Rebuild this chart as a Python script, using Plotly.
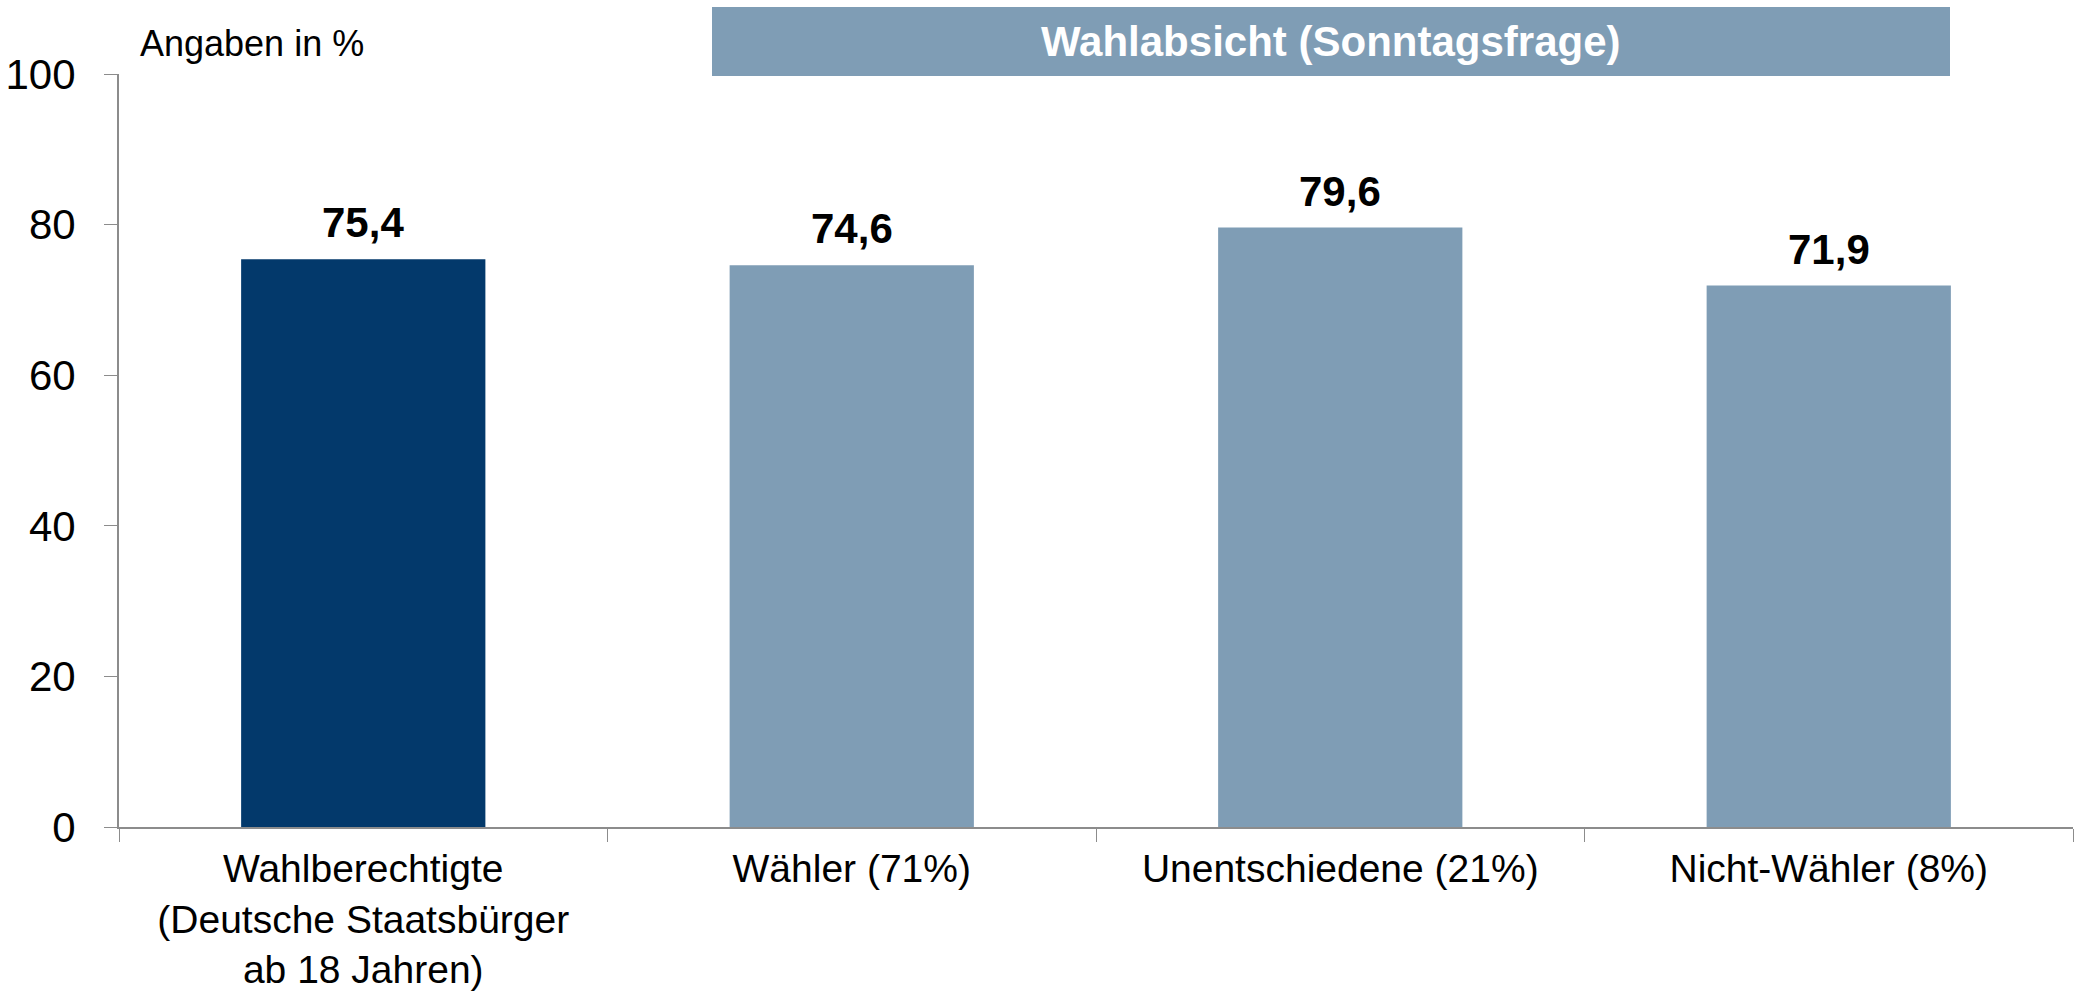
import plotly.graph_objects as go

categories = ["Wahlberechtigte<br>(Deutsche Staatsbürger<br>ab 18 Jahren)",
              "Wähler (71%)", "Unentschiedene (21%)", "Nicht-Wähler (8%)"]
values = [75.4, 74.6, 79.6, 71.9]
value_labels = ["75,4", "74,6", "79,6", "71,9"]
bar_colors = ["#03396B", "#7F9DB5", "#7F9DB5", "#7F9DB5"]
y_ticks = [0, 20, 40, 60, 80, 100]
banner_text = "Wahlabsicht (Sonntagsfrage)"
unit_text = "Angaben in %"

FONT = "Liberation Sans, Arial, sans-serif"
W, H = 2082, 995
ML, MR, MT, MB = 119, 9, 74, 168
plot_h = H - MT - MB

fig = go.Figure()
fig.add_trace(go.Bar(x=categories, y=values, marker=dict(color=bar_colors, line=dict(width=0)),
                     width=0.5, hoverinfo="skip"))

for c, v, t in zip(categories, values, value_labels):
    fig.add_annotation(x=c, y=v, text="<b>%s</b>" % t, showarrow=False, yanchor="bottom",
                       yshift=11, font=dict(family=FONT, size=42, color="black"))

def py(p):
    return (H - MB - p) / plot_h

fig.add_shape(type="rect", xref="paper", yref="paper",
              x0=(712 - ML) / (W - ML - MR), x1=(1950 - ML) / (W - ML - MR),
              y0=py(76), y1=py(7), fillcolor="#7F9DB5", line=dict(width=0), layer="above")
fig.add_annotation(xref="paper", yref="paper", x=(1331 - ML) / (W - ML - MR), y=py(41.5),
                   text="<b>%s</b>" % banner_text, showarrow=False, xanchor="center", yanchor="middle",
                   font=dict(family=FONT, size=42, color="white"))
fig.add_annotation(xref="paper", yref="paper", x=(138 - ML) / (W - ML - MR), y=py(43),
                   text=unit_text, showarrow=False, xanchor="left", yanchor="middle",
                   font=dict(family=FONT, size=36, color="black"))

fig.update_layout(
    width=W, height=H, margin=dict(l=ML, r=MR, t=MT, b=MB),
    paper_bgcolor="white", plot_bgcolor="white", showlegend=False,
    font=dict(family=FONT, color="black"),
    bargap=0.5,
)
fig.update_yaxes(range=[0, 100], tickvals=y_ticks, ticks="outside", ticklen=13, tickcolor="#8C8C8C",
                 showline=True, linecolor="#8C8C8C", linewidth=2, showgrid=False, zeroline=False,
                 tickfont=dict(family=FONT, size=42, color="black"), ticklabelstandoff=20,
                 automargin=False)
fig.update_xaxes(ticks="outside", ticklen=13, tickcolor="#8C8C8C", tickson="boundaries",
                 showline=True, linecolor="#8C8C8C", linewidth=2, showgrid=False,
                 tickfont=dict(family=FONT, size=39, color="black"), ticklabelstandoff=6,
                 range=[-0.5, 3.5], automargin=False)

fig.write_html("out.html", config={"displayModeBar": False},
               post_script="document.body.style.margin='0';document.body.style.overflow='hidden';")
